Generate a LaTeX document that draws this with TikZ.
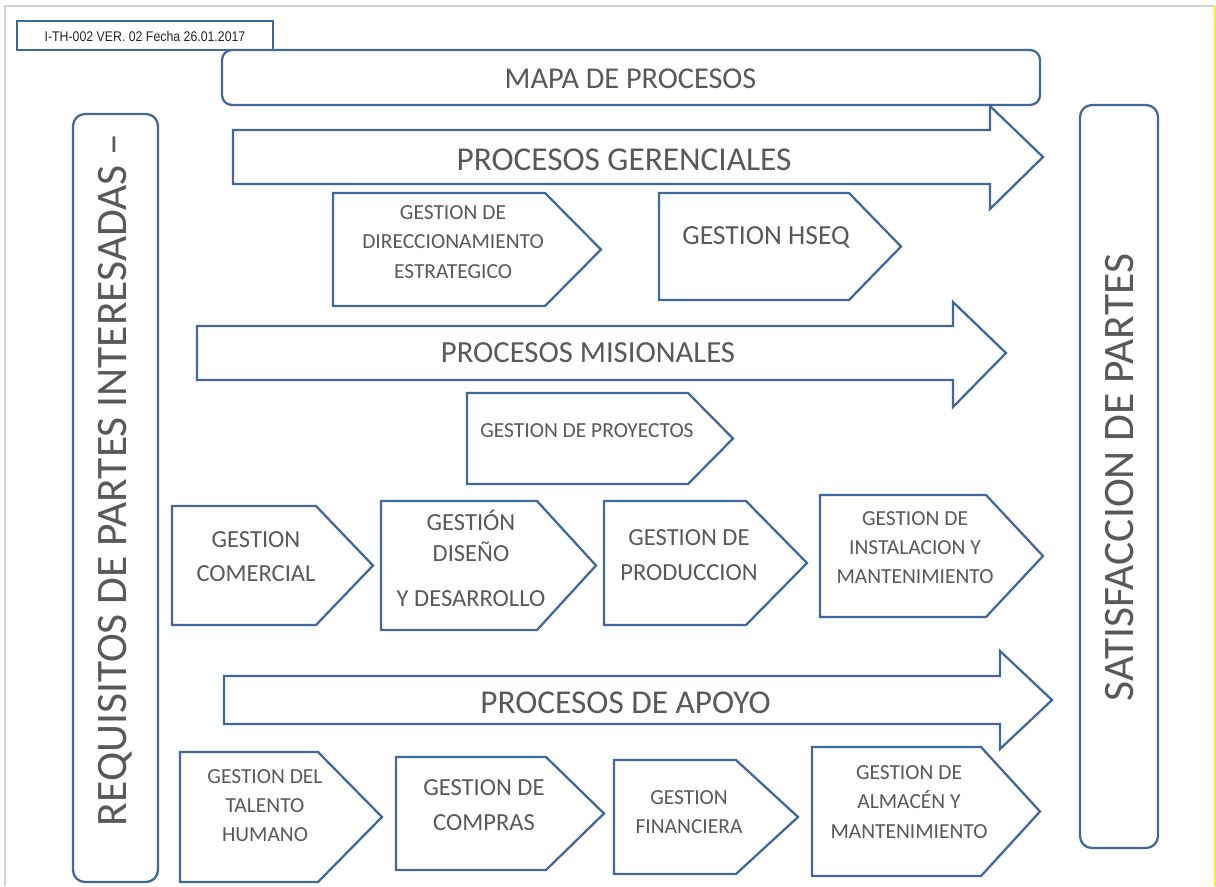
\documentclass[tikz,border=0pt]{standalone}
\usepackage{fontspec}
\setmainfont{Carlito}
\newfontfamily\hdrfont[FakeStretch=0.88]{Liberation Sans}
\definecolor{lineblue}{HTML}{41689A}
\definecolor{txtgray}{HTML}{595959}
\definecolor{framegray}{HTML}{D4D4D4}
\definecolor{frameyellow}{HTML}{FFF200}
\newcommand{\procshape}[6]{% x1 y1 x2 y2 tipx name
  \draw[shp] (#1,#2) -- (#3,#2) -- (#5,{(#2+#4)/2}) coordinate (#6tip) -- (#3,#4) -- (#1,#4) -- cycle;}
\newcommand{\bigarrow}[8]{% x1 ytop ybot xn headtop headbot tipx name
  \draw[shp] (#1,#2) -- (#4,#2) -- (#4,#5) -- (#7,{(#2+#3)/2}) coordinate (#8tip) -- (#4,#6) -- (#4,#3) -- (#1,#3) -- cycle;}
\begin{document}
\begin{tikzpicture}[x=0.75pt,y=-0.75pt,
  shp/.style={draw=lineblue, line width=1.7pt, line join=miter, fill=white},
  rbox/.style={draw=lineblue, line width=1.7pt, fill=white, rounded corners=9pt},
  lbl/.style={text=txtgray, align=center, inner sep=0pt},
  small/.style={font=\fontsize{16.1pt}{22pt}\selectfont},
  medium/.style={font=\fontsize{18.4pt}{26pt}\selectfont},
  big/.style={font=\fontsize{25pt}{30pt}\selectfont},
  huge/.style={font=\fontsize{32.6pt}{38pt}\selectfont}]
\useasboundingbox (0,0) rectangle (1216,886);
\fill[white] (0,0) rectangle (1216,886);
% page frame
\draw[framegray, line width=1.2pt] (5,886) -- (5,6) -- (1214,6);
\draw[frameyellow, line width=1.5pt] (1214.5,6) -- (1214.5,886);
% header box
\draw[draw=lineblue, line width=1.1pt] (17,21) rectangle (273,50);
\node[inner sep=0pt, text=black!85, font=\hdrfont\fontsize{10.5pt}{12pt}\selectfont] (hdr) at (145,36) {I-TH-002 VER. 02 Fecha 26.01.2017};
% title
\draw[rbox, rounded corners=7.5pt] (222,50) rectangle (1040,105);
\node[lbl, font=\fontsize{22.7pt}{28pt}\selectfont] (mapa) at (630.5,78.5) {MAPA DE PROCESOS};
% side bars
\draw[rbox] (73,114) rectangle (158,882);
\node[lbl, huge, rotate=90] (req) at (115,480) {REQUISITOS DE PARTES INTERESADAS –};
\draw[rbox] (1080,105) rectangle (1158,848);
\node[lbl, huge, rotate=90] (sat) at (1120,477.5) {SATISFACCION DE PARTES};
% big arrows
\bigarrow{233}{130}{184}{990}{106}{209}{1043}{ger}
\node[lbl, big] (pger) at (624,159.5) {PROCESOS GERENCIALES};
\bigarrow{197}{326}{380}{953}{302}{407}{1006}{mis}
\node[lbl, font=\fontsize{23pt}{28pt}\selectfont] (pmis) at (588,352.5) {PROCESOS MISIONALES};
\bigarrow{224}{676}{724}{1000}{651}{749}{1052}{apo}
\node[lbl, big] (papo) at (625.5,702.5) {PROCESOS DE APOYO};
% gerenciales
\procshape{333}{193}{545}{306}{601}{dir}
\node[lbl, small] (tdir) at (453,242) {GESTION DE\\DIRECCIONAMIENTO\\ESTRATEGICO};
\procshape{659}{193}{849}{300}{901}{hseq}
\node[lbl, font=\fontsize{20.7pt}{26pt}\selectfont] (thseq) at (766,237) {GESTION HSEQ};
% misionales
\procshape{467}{393}{688}{484}{733}{proy}
\node[lbl, small] (tproy) at (587,431) {GESTION DE PROYECTOS};
\procshape{172}{506}{316}{625}{373}{com}
\node[lbl, medium] (tcom) at (256,556.5) {GESTION\\COMERCIAL};
\procshape{381}{501}{537}{630}{596}{dis}
\node[lbl, font=\fontsize{18.4pt}{23.3pt}\selectfont] (tdis) at (471,558) {GESTIÓN\\DISEÑO\\[10.5pt] Y DESARROLLO};
\procshape{604}{501}{746}{625}{807}{prod}
\node[lbl, medium] (tprod) at (689,555) {GESTION DE\\PRODUCCION};
\procshape{820}{495}{986}{617}{1043}{inst}
\node[lbl, small] (tinst) at (915,547.5) {GESTION DE\\INSTALACION Y\\MANTENIMIENTO};
% apoyo
\procshape{180}{752}{318}{882}{382}{tal}
\node[lbl, small] (ttal) at (265,805.5) {GESTION DEL\\TALENTO\\HUMANO};
\procshape{396}{757}{546}{870}{604}{comp}
\node[lbl, medium] (tcomp) at (484,805) {GESTION DE\\COMPRAS};
\procshape{614}{760}{736}{874}{798}{fin}
\node[lbl, small] (tfin) at (689,812) {GESTION\\FINANCIERA};
\procshape{812}{747}{981}{876}{1040}{alm}
\node[lbl, small] (talm) at (909,802) {GESTION DE\\ALMACÉN Y\\MANTENIMIENTO};
\end{tikzpicture}
\end{document}
